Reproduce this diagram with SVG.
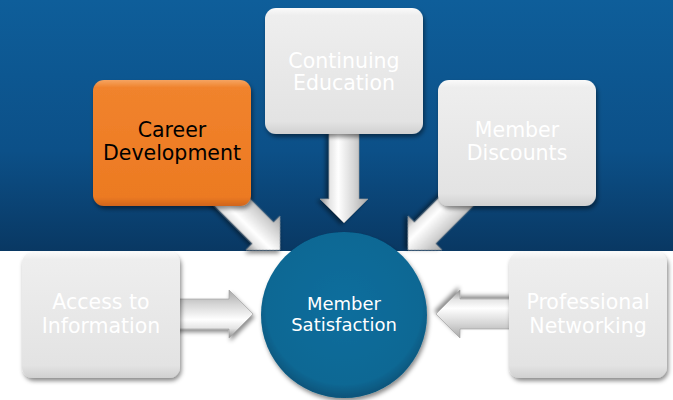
<svg xmlns="http://www.w3.org/2000/svg" width="673" height="400" viewBox="0 0 673 400">
<defs>
<linearGradient id="bg" x1="0" y1="0" x2="0" y2="1">
<stop offset="0" stop-color="#0e5e9a"/>
<stop offset="0.6" stop-color="#0c5088"/>
<stop offset="1" stop-color="#093863"/>
</linearGradient>
<linearGradient id="grey" x1="0" y1="0" x2="0" y2="1">
<stop offset="0" stop-color="#fafafa"/>
<stop offset="0.06" stop-color="#eeeeee"/>
<stop offset="0.9" stop-color="#e3e3e3"/>
<stop offset="1" stop-color="#d0d0d0"/>
</linearGradient>
<linearGradient id="orange" x1="0" y1="0" x2="0" y2="1">
<stop offset="0" stop-color="#f5a462"/>
<stop offset="0.06" stop-color="#f0832d"/>
<stop offset="0.5" stop-color="#ef7e27"/>
<stop offset="0.93" stop-color="#ec7a22"/>
<stop offset="1" stop-color="#d0651a"/>
</linearGradient>
<radialGradient id="ball" cx="0.5" cy="0.45" r="0.55">
<stop offset="0" stop-color="#0b6e9d"/>
<stop offset="0.85" stop-color="#0a6894"/>
<stop offset="1" stop-color="#075379"/>
</radialGradient>
<linearGradient id="arr" x1="0" y1="0" x2="0" y2="1">
<stop offset="0" stop-color="#a8a8a8"/>
<stop offset="0.3" stop-color="#d6d6d6"/>
<stop offset="0.62" stop-color="#ffffff"/>
<stop offset="0.8" stop-color="#e4e4e4"/>
<stop offset="1" stop-color="#8e8e8e"/>
</linearGradient>
<filter id="sh" x="-20%" y="-20%" width="140%" height="140%">
<feDropShadow dx="1.5" dy="3" stdDeviation="2" flood-color="#000" flood-opacity="0.45"/>
</filter>
<path id="arrow90" d="M -90,-15 L -24,-15 L -24,-24 L 0,0 L -24,24 L -24,15 L -90,15 Z"/>
</defs>
<style>
.box{fill:url(#grey);filter:url(#sh)}
.obox{fill:url(#orange);filter:url(#sh)}
.arrow{fill:url(#arr);stroke:#9a9a9a;stroke-width:0.6;filter:url(#sh)}
.t{font-family:"DejaVu Sans",Verdana,sans-serif;font-size:20.5px;text-anchor:middle;fill:#ffffff}
.tb{fill:#000000}
.tc{font-size:18px}
</style>
<rect x="0" y="0" width="673" height="251" fill="url(#bg)"/>
<rect x="0" y="251" width="673" height="149" fill="#ffffff"/>
<g id="connectors">
<use href="#arrow90" class="arrow" transform="translate(253,314)"/>
<use href="#arrow90" class="arrow" transform="translate(436,314) rotate(180)"/>
<use href="#arrow90" class="arrow" transform="translate(344,223) rotate(90)"/>
<use href="#arrow90" class="arrow" transform="translate(280,250) rotate(45)"/>
<use href="#arrow90" class="arrow" transform="translate(408,250) rotate(135)"/>
</g>
<g id="career">
<rect class="obox" x="93" y="80" width="158" height="126" rx="11"/>
<text class="t tb" x="172" y="137">Career</text>
<text class="t tb" x="172" y="160">Development</text>
</g>
<g id="continuing">
<rect class="box" x="265" y="8" width="158" height="126" rx="11"/>
<text class="t" x="344" y="68">Continuing</text>
<text class="t" x="344" y="90">Education</text>
</g>
<g id="discounts">
<rect class="box" x="438" y="80" width="158" height="126" rx="11"/>
<text class="t" x="517" y="137">Member</text>
<text class="t" x="517" y="160">Discounts</text>
</g>
<g id="access">
<rect class="box" x="22" y="252" width="158" height="126" rx="11"/>
<text class="t" x="101" y="309">Access to</text>
<text class="t" x="101" y="333">Information</text>
</g>
<g id="networking">
<rect class="box" x="509" y="252" width="158" height="126" rx="11"/>
<text class="t" x="588" y="309">Professional</text>
<text class="t" x="588" y="333">Networking</text>
</g>
<g id="satisfaction">
<circle cx="344" cy="315" r="83" fill="url(#ball)" filter="url(#sh)"/>
<text class="t tc" x="344" y="310">Member</text>
<text class="t tc" x="344" y="331">Satisfaction</text>
</g>
</svg>
